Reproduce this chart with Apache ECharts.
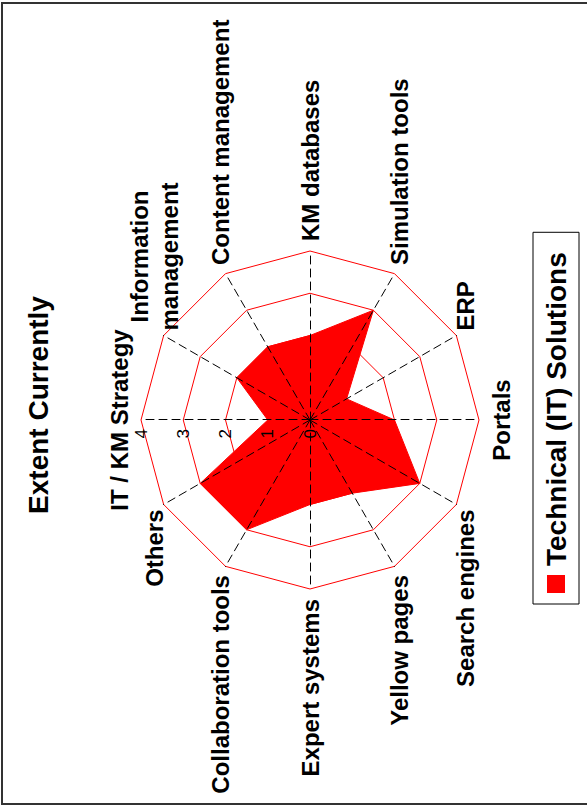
<!DOCTYPE html>
<html>
<head>
<meta charset="utf-8">
<script src="https://cdn.jsdelivr.net/npm/echarts@6/dist/echarts.min.js"></script>
<style>
  html, body { margin: 0; padding: 0; background: #fff; width: 587px; height: 810px; overflow: hidden; }
  #frame { position: absolute; left: 1px; top: 2px; width: 620px; height: 803px; border: 2px solid #333; box-sizing: border-box; }
  #chart { position: absolute; left: 0; top: 0; width: 810px; height: 587px;
           transform-origin: 0 0; transform: translateY(810px) rotate(-90deg); }
</style>
</head>
<body>
<div id="frame"></div>
<div id="chart"></div>
<script>
// Categories listed clockwise starting at the top of the (unrotated) chart
const categories = ['IT / KM Strategy', 'Information\nmanagement', 'Content management', 'KM databases',
  'Simulation tools', 'ERP', 'Portals', 'Search engines', 'Yellow pages', 'Expert systems',
  'Collaboration tools', 'Others'];
const values = [1, 2, 2, 2, 3, 1, 2, 3, 2, 2, 3, 3];
const tickLabels = ['0', '1', '2', '3', '4'];
const seriesName = 'Technical (IT) Solutions';
const titleText = 'Extent Currently';

const FONT = "'Liberation Sans', Arial, Helvetica, sans-serif";

const tickLabelStyle = {
  show: true,
  color: '#000',
  fontFamily: FONT,
  fontSize: 17,
  fontWeight: 'normal',
  margin: 9,
  formatter: function (v) { return tickLabels[Math.round(v)] || ''; }
};

// ECharts places radar indicators counter-clockwise; reorder to draw clockwise
const order = [0].concat(categories.map((_, i) => i).slice(1).reverse());
const indicators = order.map((i, k) => ({
  name: categories[i],
  min: 0,
  max: tickLabels.length - 1,
  axisLabel: k === 0 ? tickLabelStyle : { show: false }
}));
const orderedValues = order.map(i => values[i]);

const chart = echarts.init(document.getElementById('chart'), null, { renderer: 'svg', width: 810, height: 587 });
chart.setOption({
  animation: false,
  backgroundColor: 'transparent',
  title: {
    text: titleText,
    left: 'center',
    top: 19,
    textStyle: { fontFamily: FONT, fontSize: 28, fontWeight: 'bold', color: '#000' }
  },
  legend: {
    data: [seriesName],
    left: 206,
    top: 533,
    orient: 'horizontal',
    icon: 'rect',
    itemWidth: 18,
    itemHeight: 18,
    borderColor: '#000',
    borderWidth: 1,
    padding: [9, 20, 9, 11],
    textStyle: { fontFamily: FONT, fontSize: 28, fontWeight: 'bold', color: '#000', padding: [0, 0, 0, 4] }
  },
  radar: {
    z: 3,
    center: [390, 310],
    radius: 169,
    startAngle: 90,
    shape: 'polygon',
    splitNumber: tickLabels.length - 1,
    nameGap: 10,
    indicator: indicators,
    axisName: {
      color: '#000',
      fontFamily: FONT,
      fontSize: 24,
      fontWeight: 'bold',
      formatter: function (name) {
        if (name.indexOf('\n') >= 0) {
          return name.split('\n').map(s => '{c|' + s + '}').join('\n');
        }
        return name;
      },
      rich: {
        c: { align: 'center', fontFamily: FONT, fontSize: 24, fontWeight: 'bold', color: '#000', lineHeight: 30 }
      }
    },
    axisLine: { lineStyle: { color: '#000', width: 1, type: [8, 5] } },
    splitLine: { lineStyle: { color: '#ff0000', width: 1 } },
    splitArea: { show: false },
    axisTick: { show: false },
    axisLabel: Object.assign({}, tickLabelStyle, { show: false })
  },
  series: [{
    type: 'radar',
    name: seriesName,
    z: 1,
    symbol: 'none',
    itemStyle: { color: '#ff0000' },
    lineStyle: { color: '#ff0000', width: 1 },
    areaStyle: { color: '#ff0000', opacity: 1 },
    data: [{ value: orderedValues, name: seriesName }]
  }]
});
</script>
</body>
</html>
